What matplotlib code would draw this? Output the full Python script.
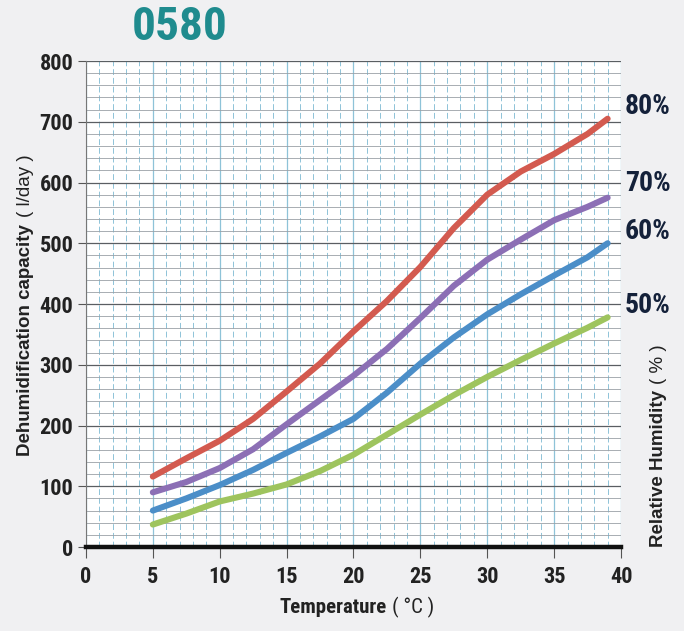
import matplotlib
matplotlib.use('Agg')
import matplotlib.pyplot as plt
from matplotlib.ticker import MultipleLocator

temp = [5, 7.5, 10, 12.5, 15, 17.5, 20, 22.5, 25, 27.5, 30, 32.5, 35, 37.5, 39]
rh80 = [116, 146, 175, 211, 256, 302, 355, 405, 461, 525, 580, 618, 647, 680, 705]
rh70 = [90, 107, 130, 161, 202, 242, 282, 326, 377, 430, 473, 506, 538, 560, 575]
rh60 = [60, 80, 102, 127, 155, 182, 211, 254, 302, 345, 383, 416, 447, 477, 500]
rh50 = [37, 55, 75, 88, 103, 125, 152, 185, 218, 250, 280, 308, 335, 361, 378]
rh_labels = ['80%', '70%', '60%', '50%']
label_y = [725, 598, 520, 397]

cols = ['#d35a4f', '#8c6fb5', '#4b8ec8', '#9ec45e']
narrow = ['Roboto Condensed', 'Asap Condensed', 'DejaVu Sans']
arial = ['Liberation Sans', 'DejaVu Sans']

fig = plt.figure(figsize=(6.84, 6.31), dpi=100, facecolor='#f0f0f2')
ax = fig.add_axes([0.1257, 0.1331, 0.7822, 0.7702])
ax.set_facecolor('white')

for yv, c in zip([rh80, rh70, rh60, rh50], cols):
    ax.plot(temp, yv, color=c, lw=4.4, solid_capstyle='round', solid_joinstyle='round', zorder=5)

ax.set_xlim(0, 40)
ax.set_ylim(0, 800)
ax.xaxis.set_major_locator(MultipleLocator(5))
ax.xaxis.set_minor_locator(MultipleLocator(1))
ax.yaxis.set_major_locator(MultipleLocator(100))
ax.yaxis.set_minor_locator(MultipleLocator(20))

ax.grid(which='minor', axis='x', color='#8ec3d8', lw=0.7, ls=(0, (6, 3)))
ax.grid(which='major', axis='x', color='#8ec3d8', lw=0.9)
ax.grid(which='minor', axis='y', color='#9aa0a6', lw=0.6)
ax.grid(which='major', axis='y', color='#5a5e62', lw=0.9)
ax.set_axisbelow(True)

for s in ['top', 'right']:
    ax.spines[s].set_visible(False)
ax.spines['left'].set_color('#777777')
ax.spines['left'].set_linewidth(0.8)
ax.spines['bottom'].set_color('#111111')
ax.spines['bottom'].set_linewidth(3.2)
ax.spines['bottom'].set_zorder(6)

ax.tick_params(which='minor', length=0)
ax.tick_params(axis='y', which='major', length=6, width=0.8, color='#555555', pad=3)
ax.tick_params(axis='x', which='major', length=8, width=0.8, color='#555555', pad=6)
for t in ax.get_xticklabels() + ax.get_yticklabels():
    t.set_family(narrow)
    t.set_fontweight('bold')
    t.set_fontsize(16)
    t.set_color('#222222')

for lab, yy in zip(rh_labels, label_y):
    ax.text(40.3, yy, lab, family=narrow, fontweight='bold', fontsize=20,
            color='#14213a', va='center', ha='left', clip_on=False)

fig.text(0.263, 0.957, '0580', family=narrow, fontweight='bold', fontsize=34,
         color='#1f8b8e', ha='center', va='center')

# axis titles: bold part followed by regular unit part
r = fig.canvas.get_renderer()

def two_part(x, y, bold, rest, fam, size, rot=0):
    t1 = fig.text(x, y, bold, family=fam, fontweight='bold', fontsize=size,
                  color='#222222', rotation=rot, ha='left' if rot == 0 else 'center',
                  va='center' if rot == 0 else 'bottom')
    bb = t1.get_window_extent(r).transformed(fig.transFigure.inverted())
    if rot == 0:
        fig.text(bb.x1 + 0.008, y, rest, family=fam, fontsize=size, color='#222222',
                 ha='left', va='center')
    else:
        fig.text(x, bb.y1 + 0.010, rest, family=fam, fontsize=size, color='#222222',
                 rotation=rot, ha='center', va='bottom')

two_part(0.409, 0.037, 'Temperature', '( °C )', narrow, 15)
two_part(0.037, 0.278, 'Dehumidification capacity', '( l/day )', arial, 13.5, rot=90)
two_part(0.963, 0.133, 'Relative Humidity', '( % )', arial, 13.5, rot=90)

fig.savefig('out.png', dpi=100, facecolor=fig.get_facecolor())
